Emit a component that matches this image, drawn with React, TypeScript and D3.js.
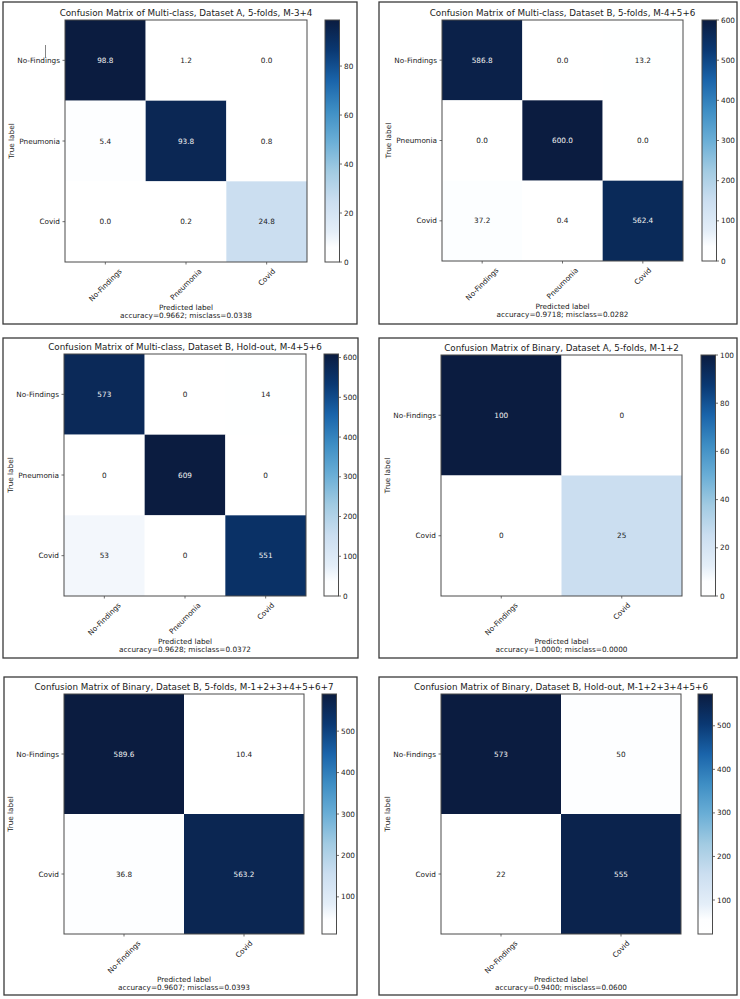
import React from "react";
import * as d3 from "d3";

// ---------- data ----------
const classes3 = ["No-Findings", "Pneumonia", "Covid"];
const classes2 = ["No-Findings", "Covid"];

const titles = [
  "Confusion Matrix of Multi-class, Dataset A, 5-folds, M-3+4",
  "Confusion Matrix of Multi-class, Dataset B, 5-folds, M-4+5+6",
  "Confusion Matrix of Multi-class, Dataset B, Hold-out, M-4+5+6",
  "Confusion Matrix of Binary, Dataset A, 5-folds, M-1+2",
  "Confusion Matrix of Binary, Dataset B, 5-folds, M-1+2+3+4+5+6+7",
  "Confusion Matrix of Binary, Dataset B, Hold-out, M-1+2+3+4+5+6",
];

const cmMultiA5 = [
  [98.8, 1.2, 0.0],
  [5.4, 93.8, 0.8],
  [0.0, 0.2, 24.8],
];
const cmMultiB5 = [
  [586.8, 0.0, 13.2],
  [0.0, 600.0, 0.0],
  [37.2, 0.4, 562.4],
];
const cmMultiBHold = [
  [573, 0, 14],
  [0, 609, 0],
  [53, 0, 551],
];
const cmBinA5 = [
  [100, 0],
  [0, 25],
];
const cmBinB5 = [
  [589.6, 10.4],
  [36.8, 563.2],
];
const cmBinBHold = [
  [573, 50],
  [22, 555],
];

const matrices = [cmMultiA5, cmMultiB5, cmMultiBHold, cmBinA5, cmBinB5, cmBinBHold];
const panelClasses = [classes3, classes3, classes3, classes2, classes2, classes2];
const decimals = [1, 1, 0, 0, 1, 0];
const accuracies = [0.9662, 0.9718, 0.9628, 1.0, 0.9607, 0.94];

// "Blues"-like colour ramp, as it appears in the picture
const bluesPos = [0, 0.06, 0.125, 0.25, 0.375, 0.5, 0.625, 0.75, 0.875, 1];
const bluesStops = [
  "#ffffff", "#fdfeff", "#e4eef8", "#cbdef0", "#a2cbe2", "#6aaed6",
  "#3e8ec4", "#1a64aa", "#0a3872", "#0b1c40",
];

// ---------- layout ----------
const W = 740;
const H = 999;
const FONT = '"DejaVu Sans", sans-serif';
const FS = 7.3;
const TFS = 8.76;
const CBW = 14.5;

const layouts = [
  { bx: 3, by: 2, bw: 354, bh: 322, hx: 65, hy: 20, hs: 242, cbx: 325 },
  { bx: 379, by: 2, bw: 358, bh: 322, hx: 442, hy: 20, hs: 241, cbx: 702 },
  { bx: 3, by: 338, bw: 355, bh: 320, hx: 64, hy: 354, hs: 242, cbx: 324 },
  { bx: 379, by: 338, bw: 358, bh: 320, hx: 441, hy: 355, hs: 241, cbx: 701 },
  { bx: 4, by: 677, bw: 353, bh: 318, hx: 64, hy: 694, hs: 240, cbx: 322 },
  { bx: 379, by: 677, bw: 358, bh: 318, hx: 441, hy: 694, hs: 240, cbx: 698 },
];

const cmap = d3
  .scaleLinear<string>()
  .domain(bluesPos)
  .range(bluesStops)
  .interpolate(d3.interpolateRgb)
  .clamp(true);

let _ctx: CanvasRenderingContext2D | null = null;
function measure(text: string, size: number) {
  if (!_ctx) _ctx = document.createElement("canvas").getContext("2d");
  if (!_ctx) return text.length * size * 0.6;
  _ctx.font = `${size}px "DejaVu Sans"`;
  return _ctx.measureText(text).width;
}

const TEXT = "#1a1a1a";
const SPINE = "#4a4a4a";

function Panel({ i }: { i: number }) {
  const L = layouts[i];
  const cm = matrices[i];
  const cls = panelClasses[i];
  const flat = cm.flat();
  const vmin = d3.min(flat) as number;
  const vmax = d3.max(flat) as number;
  const thresh = vmax / 2;
  const fmt = (v: number) => v.toFixed(decimals[i]);

  const x = d3.scaleBand<string>().domain(cls).range([L.hx, L.hx + L.hs]);
  const y = d3.scaleBand<string>().domain(cls).range([L.hy, L.hy + L.hs]);
  const norm = d3.scaleLinear().domain([vmin, vmax]).range([0, 1]);
  const cbScale = d3.scaleLinear().domain([vmin, vmax]).range([L.hy + L.hs, L.hy]);
  const cbTicks = cbScale.ticks(6);
  const gid = `cbgrad${i}`;
  const bottom = L.hy + L.hs;
  const cx = L.hx + L.hs / 2;
  const acc = accuracies[i];

  return (
    <g>
      <rect x={L.bx} y={L.by} width={L.bw} height={L.bh} fill="none" stroke="#3a3a3a" strokeWidth={1.3} />
      <defs>
        <linearGradient id={gid} x1="0" y1="1" x2="0" y2="0">
          {bluesStops.map((c, k) => (
            <stop key={k} offset={`${bluesPos[k] * 100}%`} stopColor={c} />
          ))}
        </linearGradient>
      </defs>
      {/* title */}
      <text x={cx} y={L.hy - 4.5} textAnchor="middle" fontSize={TFS} fontFamily={FONT} fill={TEXT}>
        {titles[i]}
      </text>
      {/* cells */}
      {cm.map((row, r) =>
        row.map((v, c) => (
          <rect
            key={`c${r}-${c}`}
            x={x(cls[c])}
            y={y(cls[r])}
            width={x.bandwidth()}
            height={y.bandwidth()}
            fill={cmap(norm(v))}
          />
        ))
      )}
      {cm.map((row, r) =>
        row.map((v, c) => (
          <text
            key={`t${r}-${c}`}
            x={(x(cls[c]) as number) + x.bandwidth() / 2}
            y={(y(cls[r]) as number) + y.bandwidth() / 2}
            textAnchor="middle"
            dominantBaseline="central"
            fontSize={FS}
            fontFamily={FONT}
            fill={v > thresh ? "#f2f2f2" : TEXT}
          >
            {fmt(v)}
          </text>
        ))
      )}
      <rect x={L.hx} y={L.hy} width={L.hs} height={L.hs} fill="none" stroke={SPINE} strokeWidth={1} />
      {/* y ticks */}
      {cls.map((c) => {
        const yy = (y(c) as number) + y.bandwidth() / 2;
        return (
          <g key={`yt${c}`}>
            <line x1={L.hx - 2.5} x2={L.hx} y1={yy} y2={yy} stroke={SPINE} strokeWidth={0.8} />
            <text x={L.hx - 5} y={yy} textAnchor="end" dominantBaseline="central" fontSize={FS} fontFamily={FONT} fill={TEXT}>
              {c}
            </text>
          </g>
        );
      })}
      {/* x ticks */}
      {cls.map((c) => {
        const xx = (x(c) as number) + x.bandwidth() / 2;
        const len = measure(c, FS);
        const hBox = (len + FS * 1.16) * Math.SQRT1_2;
        const cy = bottom + 5 + hBox / 2;
        return (
          <g key={`xt${c}`}>
            <line x1={xx} x2={xx} y1={bottom} y2={bottom + 2.5} stroke={SPINE} strokeWidth={0.8} />
            <text
              transform={`translate(${xx},${cy}) rotate(-45)`}
              textAnchor="middle"
              dominantBaseline="central"
              fontSize={FS}
              fontFamily={FONT}
              fill={TEXT}
            >
              {c}
            </text>
          </g>
        );
      })}
      {/* axis labels */}
      <text
        transform={`translate(${L.hx - 53.5},${L.hy + L.hs / 2}) rotate(-90)`}
        textAnchor="middle"
        dominantBaseline="central"
        fontSize={FS}
        fontFamily={FONT}
        fill={TEXT}
      >
        True label
      </text>
      <text x={cx} y={bottom + 47.5} textAnchor="middle" fontSize={FS} fontFamily={FONT} fill={TEXT}>
        Predicted label
      </text>
      <text x={cx} y={bottom + 55.5} textAnchor="middle" fontSize={FS} fontFamily={FONT} fill={TEXT}>
        {`accuracy=${acc.toFixed(4)}; misclass=${(1 - acc).toFixed(4)}`}
      </text>
      {/* colorbar */}
      <rect x={L.cbx} y={L.hy} width={CBW} height={L.hs} fill={`url(#${gid})`} stroke={SPINE} strokeWidth={1} />
      {cbTicks.map((t) => (
        <g key={`cb${t}`}>
          <line x1={L.cbx + CBW} x2={L.cbx + CBW + 2.5} y1={cbScale(t)} y2={cbScale(t)} stroke={SPINE} strokeWidth={0.8} />
          <text
            x={L.cbx + CBW + 4.5}
            y={cbScale(t)}
            dominantBaseline="central"
            fontSize={FS}
            fontFamily={FONT}
            fill={TEXT}
          >
            {t}
          </text>
        </g>
      ))}
      {i === 0 && (
        <line x1={L.hx - 19.5} x2={L.hx - 19.5} y1={L.hy + 25} y2={L.hy + 38} stroke="#666" strokeWidth={0.8} />
      )}
    </g>
  );
}

export default function App() {
  return (
    <svg
      width={W}
      height={H}
      viewBox={`0 0 ${W} ${H}`}
      style={{ position: "absolute", left: 0, top: 0, background: "#fff" }}
    >
      <rect x={0} y={0} width={W} height={H} fill="#fff" />
      {layouts.map((_, i) => (
        <Panel key={i} i={i} />
      ))}
    </svg>
  );
}
